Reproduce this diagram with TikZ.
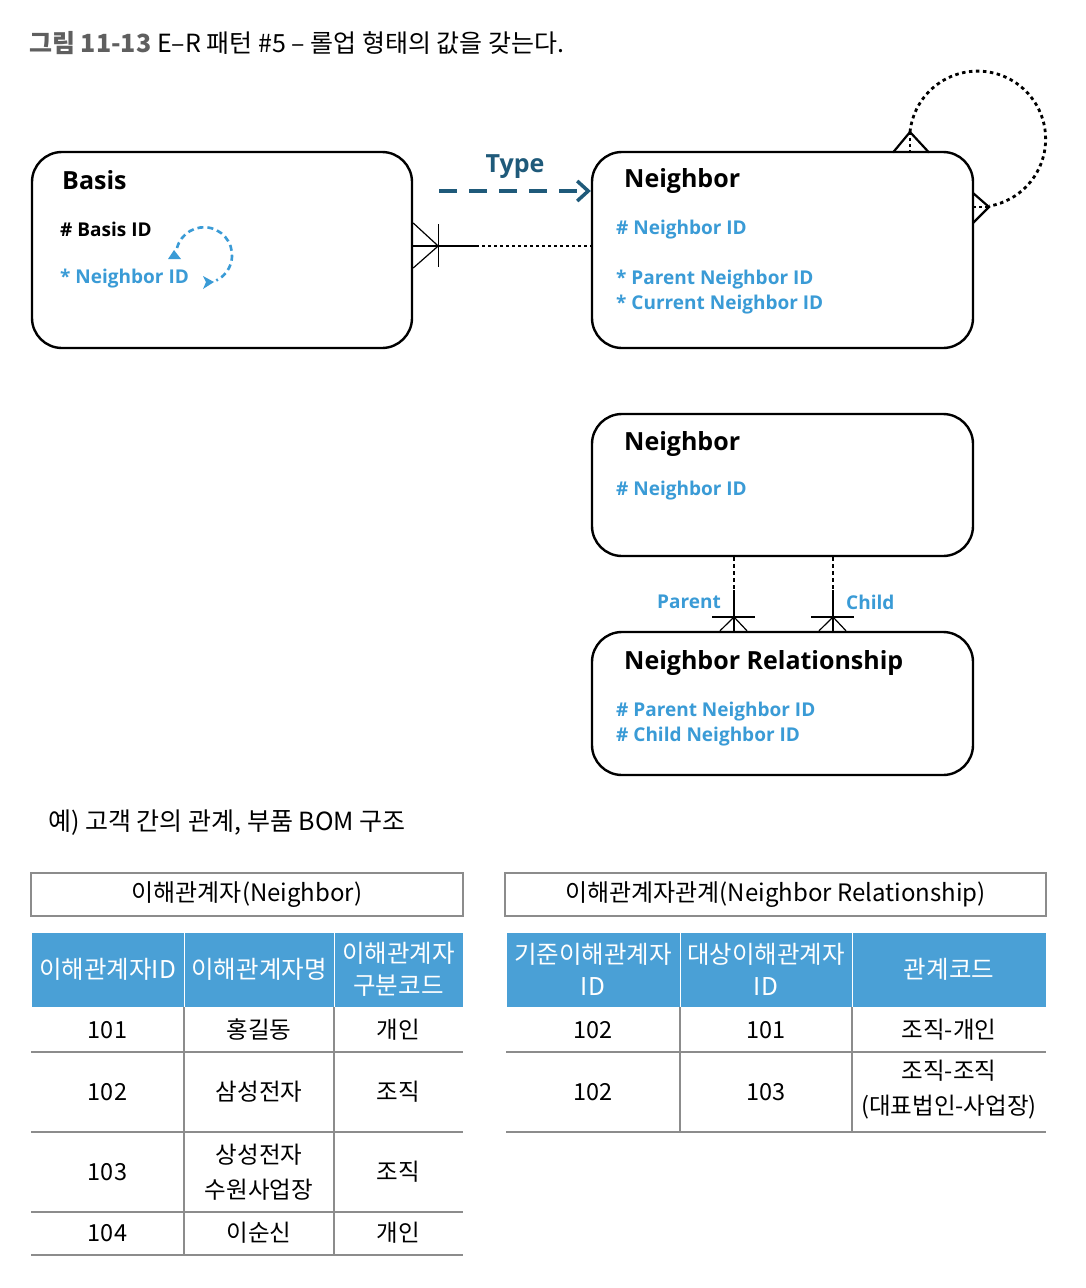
\documentclass[tikz,border=0pt]{standalone}
\usepackage{fontspec}
\setmainfont{Noto Sans CJK KR}
\newfontfamily\erfont{Open Sans}
\usetikzlibrary{calc,arrows.meta}
\definecolor{attr}{RGB}{58,155,214}
\definecolor{typec}{RGB}{31,90,122}
\definecolor{hdr}{RGB}{74,160,214}
\definecolor{tline}{RGB}{140,140,140}
\definecolor{ttl}{RGB}{95,95,95}
\begin{document}
\begin{tikzpicture}[x=1pt,y=-1pt,
  erbox/.style={draw=black, line width=2.4pt, rounded corners=30pt, rectangle, inner sep=0pt},
  ettl/.style={anchor=west, font=\erfont\bfseries\fontsize{25}{25}\selectfont, text=black, inner sep=0pt},
  eatt/.style={anchor=west, font=\erfont\bfseries\fontsize{19}{19}\selectfont, text=attr, inner sep=0pt},
  eattk/.style={eatt, text=black},
  rel/.style={line width=1.2pt, black},
  reldash/.style={rel, dash pattern=on 3pt off 3pt},
  dotloop/.style={line width=2.8pt, dash pattern=on 3.5pt off 3.5pt},
  tbl/.style={font=\fontsize{23.5}{35}\selectfont, align=center, inner sep=0pt},
  hcell/.style={fill=hdr, draw=white, line width=1pt, text=white, align=center, inner sep=0pt, font=\fontsize{24.5}{32}\selectfont},
  tl/.style={draw=tline, line width=1.2pt},
  ttlbox/.style={draw=tline, line width=1.2pt, inner sep=0pt, font=\fontsize{24}{26}\selectfont}
]
\useasboundingbox[fill=white] (0,0) rectangle (1086,1288);

% title
\node[anchor=west, inner sep=0pt, font=\fontsize{25}{28}\selectfont] (title) at (29,43)
  {{\color{ttl}\bfseries 그림 11-13} E–R 패턴 \#5 – 롤업 형태의 값을 갖는다.};

% ER boxes
\node[erbox, minimum width=380pt, minimum height=196pt] (basis) at (222,250) {};
\node[erbox, minimum width=381pt, minimum height=196pt] (nb1) at (782.5,250) {};
\node[erbox, minimum width=381pt, minimum height=142pt] (nb2) at (782.5,485) {};
\node[erbox, minimum width=381pt, minimum height=143pt] (nr) at (782.5,703.5) {};

% Basis texts
\node[ettl] (basisT) at (62,180) {Basis};
\node[eattk] (basisA1) at (60,229) {\# Basis ID};
\node[eatt] (basisA2) at (60,279) {* Neighbor ID};
\draw[attr, line width=2.6pt, dash pattern=on 6pt off 4pt] (177,248) arc[start angle=195, end angle=424, radius=28];
\fill[attr] (174,250) -- (168,259) -- (181,259) -- cycle;
\fill[attr] (203,276) -- (214,282) -- (203,289) -- (206,282) -- cycle;

% Neighbor 1 texts
\node[ettl] (nb1T) at (624,181) {Neighbor};
\node[eatt] (nb1A1) at (616,230) {\# Neighbor ID};
\node[eatt] (nb1A2) at (616,280) {* Parent Neighbor ID};
\node[eatt] (nb1A3) at (616,305) {* Current Neighbor ID};

% Neighbor 2 texts
\node[ettl] (nb2T) at (624,444) {Neighbor};
\node[eatt] (nb2A1) at (616,491) {\# Neighbor ID};

% Neighbor Relationship texts
\node[ettl] (nrT) at (624,663) {Neighbor Relationship};
\node[eatt] (nrA1) at (616,712) {\# Parent Neighbor ID};
\node[eatt] (nrA2) at (616,737) {\# Child Neighbor ID};

% Type arrow
\node[font=\erfont\bfseries\fontsize{25}{25}\selectfont, text=typec, inner sep=0pt] (typeL) at (515,167) {Type};
\coordinate (typeS) at ($(basis.east |- 0,191)+(26,0)$);
\draw[typec, line width=4pt, dash pattern=on 18pt off 12pt, -{Straight Barb[length=11pt, width=20pt, line width=3.5pt]}]
  (typeS) -- (nb1.west |- 0,191);

% Basis -- Neighbor relation (crow's foot at Basis)
\coordinate (bR) at (basis.east |- 0,246);
\coordinate (bMid) at ($(bR)+(63,0)$);
\draw[rel] (bR) -- (bMid);
\draw[reldash] (bMid) -- (nb1.west |- 0,246);
\draw[rel] ($(bR)+(0,-23)$) -- ($(bR)+(25,0)$) -- ($(bR)+(0,22)$);
\draw[rel] ($(bR)+(25,-22)$) -- ($(bR)+(25,21)$);

% self loop on Neighbor 1
\coordinate (ta) at (910,132);
\coordinate (ra) at (989,207);
\draw[line width=2.2pt, line join=miter] (893,152.5) -- (ta) -- (929,152.5);
\draw[line width=2.2pt, line join=miter] (973,193) -- (ra) -- (973,223);
\draw[dotloop] (ta) arc[start angle=186, end angle=440, radius=68];
\draw[line width=2pt, dash pattern=on 3pt off 3pt] (ta) -- (910,152);
\draw[line width=2pt, dash pattern=on 3pt off 3pt] (973,207) -- (ra);

% Parent / Child relations
\foreach \xx/\nm in {734/p, 833/c}{
  \coordinate (\nm top) at (nb2.south -| \xx,0);
  \coordinate (\nm bot) at (nr.north -| \xx,0);
  \coordinate (\nm mid) at (\xx,590);
  \coordinate (\nm bar) at (\xx,617);
  \draw[line width=1.2pt, dash pattern=on 4pt off 3pt] (\nm top) -- (\nm mid);
  \draw[rel] (\nm mid) -- (\nm bot);
  \draw[rel] ($(\nm bar)+(-22,0)$) -- ($(\nm bar)+(21,0)$);
  \draw[rel] ($(\nm bot)+(-14,0)$) -- (\nm bar) -- ($(\nm bot)+(13,0)$);
}
\node[font=\erfont\bfseries\fontsize{19}{19}\selectfont, text=attr, anchor=east, inner sep=0pt] (parentL) at (721,602) {Parent};
\node[font=\erfont\bfseries\fontsize{19}{19}\selectfont, text=attr, anchor=west, inner sep=0pt] (childL) at (846,602) {Child};

% example line
\node[anchor=west, inner sep=0pt, font=\fontsize{25}{28}\selectfont] (ex) at (48,823) {예) 고객 간의 관계, 부품 BOM 구조};

% Left table
\node[ttlbox, minimum width=432pt, minimum height=43pt] (ltT) at (247,894.5) {이해관계자(Neighbor)};
\node[hcell, minimum width=153pt, minimum height=75pt] (lh1) at (107.5,969.5) {이해관계자ID};
\node[hcell, minimum width=150pt, minimum height=75pt] (lh2) at (259,969.5) {이해관계자명};
\node[hcell, minimum width=129pt, minimum height=75pt] (lh3) at (398.5,969.5) {이해관계자\\구분코드};
\foreach \yy in {1052,1132,1212,1255} \draw[tl] (31,\yy) -- (463,\yy);
\draw[tl] (184,1007) -- (184,1255);
\draw[tl] (334,1007) -- (334,1255);
\node[tbl] (l11) at (107.5,1030) {101};
\node[tbl] (l12) at (259,1030) {홍길동};
\node[tbl] (l13) at (398.5,1030) {개인};
\node[tbl] (l21) at (107.5,1092) {102};
\node[tbl] (l22) at (259,1092) {삼성전자};
\node[tbl] (l23) at (398.5,1092) {조직};
\node[tbl] (l31) at (107.5,1172) {103};
\node[tbl] (l32) at (259,1172) {상성전자\\수원사업장};
\node[tbl] (l33) at (398.5,1172) {조직};
\node[tbl] (l41) at (107.5,1233) {104};
\node[tbl] (l42) at (259,1233) {이순신};
\node[tbl] (l43) at (398.5,1233) {개인};

% Right table
\node[ttlbox, minimum width=541pt, minimum height=43pt] (rtT) at (775.5,894.5) {이해관계자관계(Neighbor Relationship)};
\node[hcell, minimum width=174pt, minimum height=75pt] (rh1) at (593,969.5) {기준이해관계자\\ID};
\node[hcell, minimum width=172pt, minimum height=75pt] (rh2) at (766,969.5) {대상이해관계자\\ID};
\node[hcell, minimum width=194pt, minimum height=75pt] (rh3) at (949,969.5) {관계코드};
\foreach \yy in {1052,1132} \draw[tl] (506,\yy) -- (1046,\yy);
\draw[tl] (680,1007) -- (680,1132);
\draw[tl] (852,1007) -- (852,1132);
\node[tbl] (r11) at (593,1030) {102};
\node[tbl] (r12) at (766,1030) {101};
\node[tbl] (r13) at (949,1030) {조직-개인};
\node[tbl] (r21) at (593,1092) {102};
\node[tbl] (r22) at (766,1092) {103};
\node[tbl] (r23) at (949,1090) {조직-조직\\(대표법인-사업장)};
\end{tikzpicture}
\end{document}
